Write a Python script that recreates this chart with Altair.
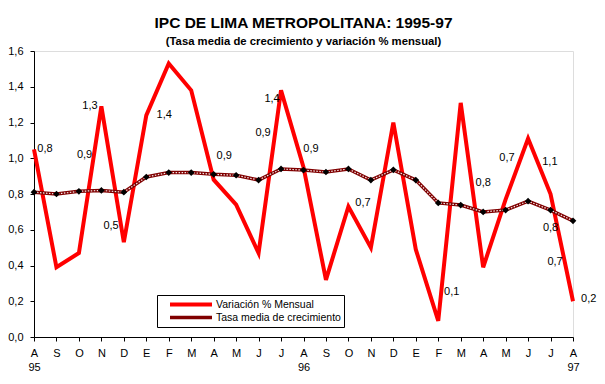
import altair as alt
import pandas as pd

meses = ["A", "S", "O", "N", "D", "E", "F", "M", "A", "M", "J", "J", "A",
         "S", "O", "N", "D", "E", "F", "M", "A", "M", "J", "J", "A"]
anio_pos = [0, 12, 24]
anio_txt = ["95", "96", "97"]

variacion = [1.05, 0.39, 0.47, 1.29, 0.53, 1.24, 1.53, 1.38, 0.88, 0.74, 0.47, 1.38, 0.95,
             0.32, 0.73, 0.50, 1.20, 0.49, 0.09, 1.31, 0.39, 0.77, 1.11, 0.80, 0.20]
tasa = [0.81, 0.80, 0.815, 0.82, 0.81, 0.895, 0.92, 0.92, 0.91, 0.905, 0.878, 0.94, 0.934,
        0.923, 0.94, 0.878, 0.935, 0.878, 0.75, 0.738, 0.70, 0.71, 0.76, 0.71, 0.65]

etiquetas = ["0,8", "0,9", "1,3", "0,5", "1,4", "0,9", "0,9", "1,4", "0,9", "0,7",
             "0,1", "0,8", "0,7", "1,1", "0,8", "0,7", "0,2"]
etiq_x = [0.49, 2.25, 2.49, 3.43, 5.8, 8.47, 10.2, 10.6, 12.33, 14.65,
          18.6, 20.0, 21.06, 22.97, 23.0, 23.2, 24.7]
etiq_y = [1.05, 1.02, 1.29, 0.62, 1.24, 1.01, 1.14, 1.33, 1.05, 0.75,
          0.25, 0.86, 1.0, 0.98, 0.61, 0.42, 0.21]

S1 = "Variación % Mensual"
S2 = "Tasa media de crecimiento"

rows = []
for i, v in enumerate(variacion):
    rows.append({"i": i, "v": v, "serie": S1})
for i, v in enumerate(tasa):
    rows.append({"i": i, "v": v, "serie": S2})
df = pd.DataFrame(rows)
df_tasa = df[df.serie == S2]
df_lab = pd.DataFrame({"i": etiq_x, "v": etiq_y, "t": etiquetas})

parts = []
for p, t in zip(anio_pos, anio_txt):
    parts.append(f"datum.value == {p} ? ['{meses[p]}', '{t}'] : ")
lbl_expr = "".join(parts) + "[" + ",".join(f"'{m}'" for m in meses) + "][datum.value]"

FONT = "Liberation Sans"

xs = alt.Scale(domain=[0, 24], nice=False, zero=False)
ys = alt.Scale(domain=[0, 1.6], nice=False)

x_axis = alt.Axis(values=list(range(25)), labelExpr=lbl_expr, title=None, grid=False,
                  tickSize=4, labelPadding=6, labelLineHeight=14, labelFontSize=11,
                  labelFont=FONT, domainColor="black", tickColor="black",
                  labelColor="black", labelAngle=0, labelFlush=False, labelOverlap=False)
y_axis = alt.Axis(values=[0, 0.2, 0.4, 0.6, 0.8, 1.0, 1.2, 1.4, 1.6],
                  labelExpr="replace(format(datum.value, '.1f'), '.', ',')",
                  title=None, grid=False, tickSize=4, labelPadding=7, labelFontSize=11,
                  labelFont=FONT, domainColor="black", tickColor="black", labelColor="black",
                  labelOverlap=False, labelFlush=False)

X = alt.X("i:Q", scale=xs, axis=x_axis)
Y = alt.Y("v:Q", scale=ys, axis=y_axis)

color = alt.Color("serie:N", scale=alt.Scale(domain=[S1, S2], range=["#ff0000", "#800000"]),
                  legend=alt.Legend(title=None, orient="none", legendX=123, legendY=244,
                                    strokeColor="black", fillColor="white", padding=3,
                                    symbolType="stroke", symbolSize=1764, clipHeight=13,
                                    symbolOffset=8, labelOffset=2, rowPadding=0,
                                    labelFont=FONT, labelFontSize=10.5, labelColor="black"))
swidth = alt.StrokeWidth("serie:N", scale=alt.Scale(domain=[S1, S2], range=[4, 3.5]),
                         legend=None)

lines = alt.Chart(df).mark_line().encode(
    x=X, y=Y, color=color, strokeWidth=swidth, order=alt.Order("i:Q"))

dash = alt.Chart(df_tasa).mark_line(color="#f4e8e8", strokeWidth=1.2, strokeDash=[1.5, 1.5]).encode(
    x=X, y=Y)

pts = alt.Chart(df_tasa).mark_point(shape="diamond", filled=True, color="black", size=45,
                                    opacity=1).encode(x=X, y=Y)

labels = alt.Chart(df_lab).mark_text(font=FONT, fontSize=11, color="black",
                                     align="center", baseline="middle").encode(
    x=X, y=Y, text="t:N")

chart = alt.layer(lines, dash, pts, labels).properties(
    width=539, height=286,
    title=alt.TitleParams("IPC DE LIMA METROPOLITANA: 1995-97",
                          subtitle="(Tasa media de crecimiento y variación % mensual)",
                          font=FONT, fontSize=15.5, fontWeight="bold",
                          subtitleFont=FONT, subtitleFontSize=11.3, subtitleFontWeight="bold",
                          subtitleColor="black", color="black", anchor="middle",
                          offset=-2, subtitlePadding=4),
    autosize=alt.AutoSizeParams(type="none"),
    padding={"left": 26, "top": 43, "right": 24, "bottom": 39},
).configure_view(stroke="black", strokeWidth=1).configure(background="white")

chart.save("out.html", embed_options={"renderer": "svg", "actions": False})
